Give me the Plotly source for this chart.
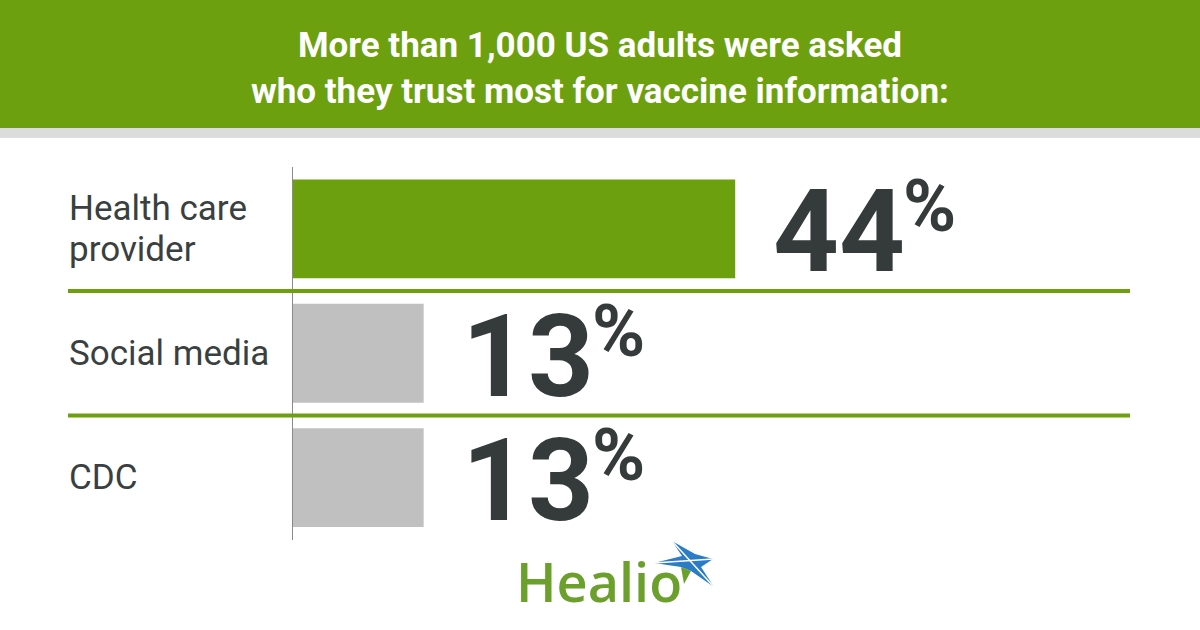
import plotly.graph_objects as go

# ---------------- data ----------------
categories = ["Health care provider", "Social media", "CDC"]
category_label_lines = [["Health care", "provider"], ["Social media"], ["CDC"]]
values = [44, 13, 13]
bar_colors = ["#6DA00F", "#C0C0C0", "#C0C0C0"]
title_text = "More than 1,000 US adults were asked<br>who they trust most for vaccine information:"
logo_text = "Healio"

W, H = 1200, 630
GREEN = "#6DA00F"
DARK = "#353A3A"


def px(x):
    return x / W


def py(y):
    return 1 - y / H


fig = go.Figure()
fig.add_trace(go.Bar(
    x=values,
    y=categories,
    orientation="h",
    marker=dict(color=bar_colors, line=dict(width=0)),
    hoverinfo="skip",
))

# header band
shapes = [
    dict(type="rect", xref="paper", yref="paper", x0=0, x1=1, y0=py(128), y1=1,
         fillcolor=GREEN, line=dict(width=0), layer="below"),
    dict(type="rect", xref="paper", yref="paper", x0=0, x1=1, y0=py(138), y1=py(128),
         fillcolor="#DCDCDC", line=dict(width=0), layer="below"),
]
# separators between categories
for b in [0.5, 1.5]:
    shapes.append(dict(type="line", xref="paper", yref="y", x0=px(68), x1=px(1130),
                       y0=b, y1=b, line=dict(color=GREEN, width=4), layer="above"))


def path(points):
    s = "M " + " L ".join(f"{px(x):.5f},{py(y):.5f}" for x, y in points) + " Z"
    return s


star_blue = [(654, 563), (682, 556), (672, 541), (695, 554), (713, 559),
             (701, 567), (714, 587), (691, 571), (681, 567)]
star_green = [(681, 567), (691, 571), (684, 584)]
shapes.append(dict(type="path", xref="paper", yref="paper", path=path(star_blue),
                   fillcolor="#2A7CC7", line=dict(width=0)))
shapes.append(dict(type="path", xref="paper", yref="paper", path=path(star_green),
                   fillcolor="#6CA02C", line=dict(width=0)))
shapes.append(dict(type="line", xref="paper", yref="paper", x0=px(672), y0=py(541),
                   x1=px(714), y1=py(587), line=dict(color="white", width=1.5)))
shapes.append(dict(type="line", xref="paper", yref="paper", x0=px(654), y0=py(563),
                   x1=px(713), y1=py(559), line=dict(color="white", width=1.5)))

annotations = [
    dict(text=title_text, xref="paper", yref="paper", x=0.5, y=py(68),
         xanchor="center", yanchor="middle", showarrow=False, align="center",
         font=dict(family="Liberation Sans Narrow, Roboto, sans-serif", size=35,
                   color="white", weight="bold")),
    dict(text=logo_text, xref="paper", yref="paper", x=px(514), y=py(581),
         xanchor="left", yanchor="middle", showarrow=False,
         font=dict(family="Open Sans, sans-serif", size=54, color="#6CA02C",
                   weight=600)),
]

LINE_GAP = 41
for cat, lines, v in zip(categories, category_label_lines, values):
    n = len(lines)
    for i, line in enumerate(lines):
        offset = ((n - 1) / 2 - i) * LINE_GAP
        annotations.append(dict(text=line, xref="paper", yref="y", x=px(67), y=cat,
                                xanchor="left", yanchor="middle", align="left",
                                showarrow=False, yshift=offset,
                                font=dict(family="Roboto, sans-serif", size=35,
                                          color="#3A3F3F")))
    annotations.append(dict(text=str(v), xref="x", yref="y", x=v, y=cat,
                            xanchor="left", yanchor="middle", showarrow=False,
                            xshift=36, yshift=-3,
                            font=dict(family="Roboto, sans-serif", size=115, color=DARK,
                                      weight="bold")))
    annotations.append(dict(text="%", xref="x", yref="y", x=v, y=cat,
                            xanchor="left", yanchor="middle", showarrow=False,
                            xshift=36 + 130, yshift=22,
                            font=dict(family="Roboto, sans-serif", size=72, color=DARK,
                                      weight="bold")))

fig.update_layout(
    width=W, height=H,
    margin=dict(l=0, r=0, t=0, b=0),
    paper_bgcolor="white", plot_bgcolor="white",
    showlegend=False,
    bargap=0.205,
    xaxis=dict(domain=[px(293), px(1130)], range=[0, 837 / 10.05],
               showgrid=False, zeroline=False, showticklabels=False, showline=False,
               fixedrange=True),
    yaxis=dict(domain=[py(539.75), py(166.75)], range=[2.5, -0.5],
               showgrid=False, zeroline=False, showticklabels=False,
               showline=True, linecolor="#8A8A8A", linewidth=1, ticks="",
               fixedrange=True),
    shapes=shapes,
    annotations=annotations,
)

fig.write_html("out.html", config={"displayModeBar": False},
               post_script="document.body.style.margin='0';document.body.style.padding='0';")
